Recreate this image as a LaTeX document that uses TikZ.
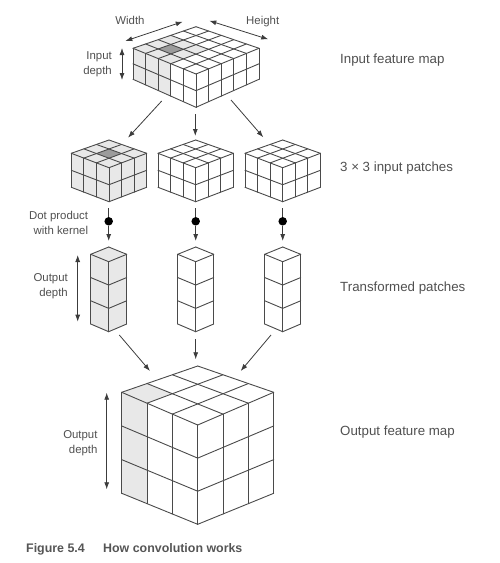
\documentclass[tikz,border=0pt]{standalone}
\usepackage{fontspec}
\setmainfont{Liberation Sans}
\usetikzlibrary{arrows.meta,positioning,calc}
\definecolor{Ink}{HTML}{3C3C3C}
\definecolor{Line}{HTML}{4A4A4A}
\definecolor{Soft}{HTML}{E8E8E8}
\definecolor{Mid}{HTML}{9C9C9C}
\definecolor{Cap}{HTML}{555555}
% name, centre x, half width, back y, side y, front y, side bottom y, front bottom y
\newcommand{\blockcorners}[8]{%
  \coordinate (#1-b) at (#2,#4);
  \coordinate (#1-l) at ($(#2,#5)+(-#3,0)$);
  \coordinate (#1-r) at ($(#2,#5)+(#3,0)$);
  \coordinate (#1-f) at (#2,#6);
  \coordinate (#1-ll) at ($(#2,#7)+(-#3,0)$);
  \coordinate (#1-rr) at ($(#2,#7)+(#3,0)$);
  \coordinate (#1-ff) at (#2,#8);
}
% name, columns, layers
\newcommand{\gridblock}[3]{%
  \foreach \i in {0,...,#2} {
    \pgfmathsetmacro\t{\i/#2}
    \draw[gridline] ($(#1-l)!\t!(#1-b)$) -- ($(#1-f)!\t!(#1-r)$);
    \draw[gridline] ($(#1-l)!\t!(#1-f)$) -- ($(#1-b)!\t!(#1-r)$);
    \draw[gridline] ($(#1-l)!\t!(#1-f)$) -- ($(#1-ll)!\t!(#1-ff)$);
    \draw[gridline] ($(#1-f)!\t!(#1-r)$) -- ($(#1-ff)!\t!(#1-rr)$);
  }
  \foreach \i in {1,...,#3} {
    \pgfmathsetmacro\t{\i/#3}
    \draw[gridline] ($(#1-l)!\t!(#1-ll)$) -- ($(#1-f)!\t!(#1-ff)$);
    \draw[gridline] ($(#1-f)!\t!(#1-ff)$) -- ($(#1-r)!\t!(#1-rr)$);
  }
}
\begin{document}
\begin{tikzpicture}[
  x=1pt, y=-1pt,
  gridline/.style={line width=0.9pt, draw=Line, line join=round, line cap=round},
  arrow/.style={-{Latex[length=7pt,width=5pt]}, line width=0.8pt, draw=Ink},
  twoway/.style={{Latex[length=7pt,width=5pt]}-{Latex[length=7pt,width=5pt]}, line width=0.8pt, draw=Ink},
  stem/.style={line width=0.8pt, draw=Ink},
  dotnode/.style={circle, fill=black, inner sep=0pt, minimum size=8.5pt},
  lab/.style={font=\fontsize{11.4}{15}\selectfont, text=Ink!90, align=right, anchor=east, inner sep=0pt},
  title/.style={font=\fontsize{13.3}{16}\selectfont, text=Ink!90, anchor=west, inner sep=0pt},
  capt/.style={font=\fontsize{12.4}{14}\bfseries\selectfont, text=Cap, anchor=base west, inner sep=0pt}
]
  \useasboundingbox (0,0) rectangle (500,563);
  \blockcorners{input}{196}{63}{26.7}{48.3}{74}{79.3}{107.3}
  \blockcorners{patcha}{109}{37.7}{140}{153.3}{167.7}{187.3}{201.7}
  \blockcorners{patchb}{195.7}{37.7}{140}{153.3}{167.7}{187.3}{201.7}
  \blockcorners{patchc}{282.7}{37.7}{140}{153.3}{167.7}{187.3}{201.7}
  \blockcorners{stacka}{108.7}{18}{247}{254.3}{261.7}{324}{331.7}
  \blockcorners{stackb}{195.7}{18}{247}{254.3}{261.7}{324}{331.7}
  \blockcorners{stackc}{282.7}{18}{247}{254.3}{261.7}{324}{331.7}
  \blockcorners{output}{197.7}{76}{366}{392.3}{425}{493.3}{524.3}
  % shading
  \fill[Soft] (input-l) -- ($(input-l)!.6!(input-b)$) -- ($(input-l)!.6!(input-b)!.6!($(input-f)!.6!(input-r)$)$)
    -- ($(input-l)!.6!(input-f)$) -- ($(input-ll)!.6!(input-ff)$) -- (input-ll) -- cycle;
  \fill[Mid] ($(input-l)!.2!(input-b)!.2!($(input-f)!.2!(input-r)$)$)
    -- ($(input-l)!.4!(input-b)!.2!($(input-f)!.4!(input-r)$)$)
    -- ($(input-l)!.4!(input-b)!.4!($(input-f)!.4!(input-r)$)$)
    -- ($(input-l)!.2!(input-b)!.4!($(input-f)!.2!(input-r)$)$) -- cycle;
  \fill[Soft] (patcha-l) -- (patcha-b) -- (patcha-r) -- (patcha-rr) -- (patcha-ff) -- (patcha-ll) -- cycle;
  \fill[Mid] ($(patcha-l)!.333!(patcha-b)!.333!($(patcha-f)!.333!(patcha-r)$)$)
    -- ($(patcha-l)!.667!(patcha-b)!.333!($(patcha-f)!.667!(patcha-r)$)$)
    -- ($(patcha-l)!.667!(patcha-b)!.667!($(patcha-f)!.667!(patcha-r)$)$)
    -- ($(patcha-l)!.333!(patcha-b)!.667!($(patcha-f)!.333!(patcha-r)$)$) -- cycle;
  \fill[Soft] (stacka-l) -- (stacka-b) -- (stacka-r) -- (stacka-rr) -- (stacka-ff) -- (stacka-ll) -- cycle;
  \fill[Soft] (output-l) -- ($(output-l)!.333!(output-b)$) -- ($(output-l)!.333!(output-b)!.333!($(output-f)!.333!(output-r)$)$)
    -- ($(output-l)!.333!(output-f)$) -- ($(output-ll)!.333!(output-ff)$) -- (output-ll) -- cycle;
  % blocks
  \gridblock{input}{5}{2}
  \gridblock{patcha}{3}{2}
  \gridblock{patchb}{3}{2}
  \gridblock{patchc}{3}{2}
  \gridblock{stacka}{1}{3}
  \gridblock{stackb}{1}{3}
  \gridblock{stackc}{1}{3}
  \gridblock{output}{3}{3}
  % labels
  \node[lab, anchor=center] (width) at (130,20.5) {Width};
  \node[lab, anchor=center] (height) at (262.7,21.8) {Height};
  \node[lab] (indepth) at (112,63.8) {Input\\depth};
  \node[lab] (dotkernel) at (88.3,222.5) {Dot product\\with kernel};
  \node[lab] (stackdepth) at (68,285.8) {Output\\depth};
  \node[lab] (outdepth) at (97.7,442.8) {Output\\depth};
  \node[title] (inmap) at (340,60.3) {Input feature map};
  \node[title] (patches) at (340,168.3) {3 × 3 input patches};
  \node[title] (transformed) at (340,288.3) {Transformed patches};
  \node[title] (outmap) at (340,432.3) {Output feature map};
  \node[capt] (figno) at (26,552.5) {Figure 5.4};
  \node[capt] (figcap) at (103,552.5) {How convolution works};
  % dots
  \node[dotnode] (dota) at (108.7,221.3) {};
  \node[dotnode] (dotb) at (195.7,221.3) {};
  \node[dotnode] (dotc) at (282.7,221.3) {};
  % arrow ends
  \coordinate (wa) at (125.3,41);
  \coordinate (wb) at (182.7,21.7);
  \coordinate (ha) at (209.3,20.7);
  \coordinate (hb) at (268.3,39.3);
  \coordinate (ia) at (122,48);
  \coordinate (ib) at (122,80);
  \coordinate (sa) at (77.7,255);
  \coordinate (sb) at (77.7,321.7);
  \coordinate (oa) at (106.7,392.7);
  \coordinate (ob) at (106.7,489.3);
  \coordinate (in1) at (161.7,101);
  \coordinate (in2) at (195.3,114.3);
  \coordinate (in3) at (231,100);
  \coordinate (pa1) at (128,137.7);
  \coordinate (pa2) at (195.3,136);
  \coordinate (pa3) at (263.3,137.3);
  \coordinate (da1) at (108.7,208.3);
  \coordinate (da2) at (195.7,208.3);
  \coordinate (da3) at (282.7,208.3);
  \coordinate (db1) at (108.7,241);
  \coordinate (db2) at (195.7,241);
  \coordinate (db3) at (282.7,241);
  \coordinate (st1) at (119.3,335);
  \coordinate (st2) at (195.7,339.3);
  \coordinate (st3) at (271,335);
  \coordinate (ou1) at (150,371);
  \coordinate (ou2) at (195.7,359.3);
  \coordinate (ou3) at (240.7,371);
  % arrows
  \draw[twoway] (wa) -- (wb);
  \draw[twoway] (ha) -- (hb);
  \draw[twoway] (ia) -- (ib);
  \draw[twoway] (sa) -- (sb);
  \draw[twoway] (oa) -- (ob);
  \draw[arrow] (in1) -- (pa1);
  \draw[arrow] (in2) -- (pa2);
  \draw[arrow] (in3) -- (pa3);
  \draw[stem] (da1) -- (dota);
  \draw[stem] (da2) -- (dotb);
  \draw[stem] (da3) -- (dotc);
  \draw[arrow] (dota) -- (db1);
  \draw[arrow] (dotb) -- (db2);
  \draw[arrow] (dotc) -- (db3);
  \draw[arrow] (st1) -- (ou1);
  \draw[arrow] (st2) -- (ou2);
  \draw[arrow] (st3) -- (ou3);
\end{tikzpicture}
\end{document}
